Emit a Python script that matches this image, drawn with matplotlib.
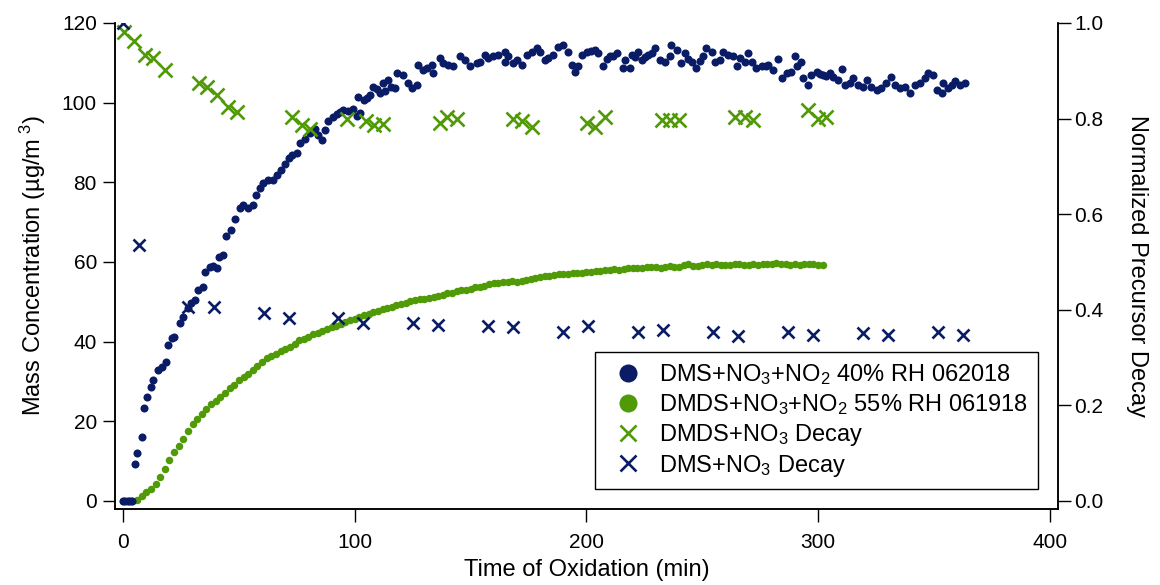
import matplotlib
matplotlib.use("Agg")
import matplotlib.pyplot as plt

plt.rcParams['font.family'] = ['Liberation Sans', 'DejaVu Sans']
plt.rcParams['mathtext.fontset'] = 'custom'
plt.rcParams['mathtext.rm'] = 'Liberation Sans'
plt.rcParams['mathtext.it'] = 'Liberation Sans:italic'
plt.rcParams['mathtext.bf'] = 'Liberation Sans:bold'

# DMS + NO3 + NO2, 40% RH (mass concentration, ug/m3)
dms_time = [0, 1, 2, 3, 4, 5.2, 6.2, 8.2, 9.1, 10.4, 12.2, 13.1, 15.2, 16.7, 18.4, 19.3,
            21.0, 22.0, 24.6, 26.0, 27.9, 29.3, 31.1, 32.5, 34.4, 35.4, 37.5, 38.9, 40.4,
            41.6, 43.3, 44.4, 46.5, 48.3, 50.5, 51.9, 54.1, 56.2, 57.3, 59.1, 60.5, 62.7,
            64.9, 66.3, 68.0, 69.9, 71.5, 72.8, 74.9, 76.4, 78.5, 80.7, 82.8, 84.3, 85.7,
            87.2, 88.6, 90.7, 92.2, 93.5, 95.1, 97.0, 99.4, 100.9, 101.5, 102.3, 104.0,
            105.1, 106.5, 108.0, 109.5, 111.0,
            112.3, 113.0, 114.5, 115.8, 117.4, 118.1, 121.0, 123.1, 124.5, 126.7, 127.4,
            129.6, 131.0, 133.2, 133.9, 136.8, 138.2, 140.4, 142.5, 145.4, 147.6, 149.7,
            152.6, 154.0, 156.2, 157.6, 159.8, 161.9, 164.8, 165.0, 166.3, 168.4, 169.9,
            172.0, 174.2, 176.3, 178.5, 179.9, 182.1, 183.5, 185.7, 187.8, 190.0, 192.1,
            193.6, 195.0,
            196.5, 198.0, 200.1, 202.0, 203.7, 205.1, 207.3, 208.8, 210.2, 211.6, 213.0,
            215.9, 216.6, 218.8, 219.5, 221.0, 222.4, 223.8, 225.3, 226.7, 228.2, 229.6,
            231.7, 233.9, 236.0, 236.7, 238.9, 241.0, 242.5, 244.0, 245.4, 247.5, 249.0,
            250.4, 251.8, 254.0, 255.4, 257.6, 259.0, 261.2, 263.3, 264.8, 266.2, 268.4,
            269.8, 271.3, 273.4, 275.6, 277.7,
            278.5, 280.6, 282.8, 284.2, 286.4, 288.5, 290.0, 290.7, 292.8, 293.5, 295.7,
            297.1, 299.3, 300.8, 302.2, 303.6, 305.1, 306.5, 308.7, 310.1, 311.5, 313.7,
            315.1, 317.3, 319.4, 320.9, 323.0, 325.2, 327.3, 329.5, 331.6, 333.1, 335.3,
            337.4, 339.6, 341.7, 343.9, 346.1, 347.5, 349.6, 351.1, 353.3, 354.0, 356.2,
            357.6, 359.0, 361.2, 363.3]
dms_mass = [0, 0, 0, 0, 0, 9.3, 12.1, 16.0, 23.3, 26.0, 28.7, 30.4, 32.9, 33.7, 35.0, 39.2,
            41.0, 41.2, 44.8, 46.1, 48.4, 49.6, 50.5, 53.0, 53.8, 57.4, 58.8, 58.9, 58.4,
            61.2, 61.7, 66.5, 68.0, 70.7, 73.5, 74.3, 73.5, 74.3, 76.8, 78.5, 79.8, 80.6,
            80.6, 81.8, 83.0, 84.5, 86.0, 86.9, 87.4, 89.8, 90.8, 92.3, 93.3, 91.8, 90.6,
            93.0, 95.3, 96.5, 97.2, 97.7, 98.2, 98.0, 98.4, 96.6, 101.4, 97.4, 100.6,
            101.1, 101.8, 104.0, 103.4, 102.4,
            104.9, 102.8, 105.7, 104.0, 103.6, 107.4, 107.0, 104.9, 103.6, 104.4, 109.5,
            108.2, 108.6, 109.5, 107.4, 111.2, 109.9, 109.5, 109.1, 111.6, 110.7, 109.1,
            109.9, 110.3, 112.0, 111.2, 111.6, 112.0, 112.8, 110.3, 111.6, 109.9, 110.7,
            109.5, 112.0, 112.8, 113.6, 112.8, 110.7, 111.2, 112.0, 114.0, 114.5, 112.8,
            109.5, 107.8,
            109.1, 112.0, 112.8, 113.0, 113.2, 112.4, 109.1, 110.9, 111.6, 111.8, 112.4,
            108.6, 110.7, 108.6, 112.0, 111.5, 112.8, 110.7, 111.4, 112.0, 112.5, 113.6,
            110.7, 110.3, 111.6, 114.5, 113.2, 109.9, 112.4, 111.0, 110.3, 108.6, 110.5,
            111.6, 113.6, 112.8, 110.3, 110.7, 112.8, 112.0, 111.6, 109.1, 111.2, 110.3,
            112.4, 110.3, 108.6, 109.1, 109.1,
            109.5, 108.2, 110.9, 106.1, 107.4, 107.8, 111.6, 109.1, 110.3, 106.1, 104.4,
            107.0, 107.6, 107.3, 107.0, 106.8, 107.4, 106.5, 105.7, 108.4, 104.4, 104.9,
            106.1, 104.4, 104.0, 105.7, 104.0, 103.2, 103.6, 104.9, 106.5, 104.4, 103.6,
            104.0, 102.4, 104.4, 104.9, 106.1, 107.4, 107.0, 103.2, 102.4, 104.9, 103.6,
            104.5, 105.3, 104.4, 104.9]

# DMDS + NO3 + NO2, 55% RH (mass concentration, ug/m3)
dmds_time = [0, 2, 4, 6, 8, 10, 12, 14, 16, 18, 20, 22, 24, 26, 28, 30, 32, 34, 36, 38,
             40, 42, 44, 46, 48, 50, 52, 54, 56, 58, 60, 62, 64, 66, 68, 70, 72, 74, 76, 78,
             80, 82, 84, 86, 88, 90, 92, 94, 96, 98, 100, 102, 104, 106, 108, 110, 112, 114,
             116, 118, 120, 122, 124, 126, 128, 130, 132, 134, 136, 138, 140, 142, 144, 146,
             148, 150, 152, 154, 156, 158, 160, 162, 164, 166, 168, 170, 172, 174, 176, 178,
             180, 182, 184, 186, 188, 190, 192, 194, 196, 198, 200, 202, 204, 206, 208, 210,
             212, 214, 216, 218, 220, 222, 224, 226, 228, 230, 232, 234, 236, 238, 240, 242,
             244, 246, 248, 250, 252, 254, 256, 258, 260, 262, 264, 266, 268, 270, 272, 274,
             276, 278, 280, 282, 284, 286, 288, 290, 292, 294, 296, 298, 300, 302]
dmds_mass = [0, 0, 0, 0.3, 1.2, 2.2, 3.0, 4.3, 6.0, 8.1, 10.3, 12.2, 13.9, 15.6, 17.5, 19.3,
             20.5, 21.9, 23.0, 24.3, 25.2, 26.2, 27.1, 28.3, 29.2, 30.4, 31.2, 32.0, 33.0, 33.8,
             35.0, 35.9, 36.4, 37.0, 37.6, 38.2, 38.6, 39.4, 40.3, 40.6, 41.2, 41.8, 42.2, 42.7,
             43.1, 43.7, 44.0, 44.4, 45.0, 45.4, 45.8, 46.2, 46.6, 46.9, 47.4, 47.8, 48.1, 48.5,
             48.8, 49.1, 49.4, 49.8, 50.1, 50.5, 50.6, 50.8, 50.9, 51.1, 51.4, 51.8, 52.1, 52.3,
             52.7, 52.9, 53.0, 53.3, 53.6, 53.8, 54.0, 54.4, 54.6, 54.8, 54.9, 55.0, 55.1, 55.0,
             55.3, 55.5, 55.7, 56.0, 56.3, 56.6, 56.5, 56.8, 57.0, 56.9, 57.1, 57.3, 57.2, 57.3,
             57.5, 57.6, 57.7, 57.8, 57.9, 58.1, 58.2, 58.1, 58.3, 58.4, 58.5, 58.4, 58.6, 58.8,
             58.7, 58.7, 58.6, 58.8, 58.9, 58.7, 58.8, 59.2, 59.5, 59.1, 59.0, 59.3, 59.4, 59.3,
             59.4, 59.2, 59.3, 59.3, 59.5, 59.4, 59.3, 59.3, 59.4, 59.3, 59.5, 59.6, 59.6, 59.7,
             59.5, 59.6, 59.2, 59.4, 59.3, 59.5, 59.6, 59.5, 59.3, 59.2]

# precursor decay, normalized
dmds_decay_time = [0.4, 4.9, 9.5, 13.1, 18.1, 32.8, 36.1, 40.7, 45.4, 49.1, 73.1, 77.1, 80.7,
                   96.5, 104.9, 108.3, 112.3, 136.8, 140.0, 144.3, 168.4, 172.0, 176.3,
                   200.4, 203.7, 208.0, 232.4, 236.0, 240.0, 264.1, 268.4, 271.7, 295.7,
                   300.0, 303.6]
dmds_decay = [0.982, 0.963, 0.933, 0.926, 0.902, 0.874, 0.865, 0.849, 0.824, 0.814, 0.804,
              0.787, 0.778, 0.800, 0.794, 0.787, 0.789, 0.791, 0.804, 0.800, 0.800, 0.794,
              0.782, 0.790, 0.783, 0.803, 0.796, 0.796, 0.797, 0.804, 0.804, 0.796, 0.818,
              0.798, 0.804]
dms_decay_time = [0, 7.0, 28.2, 39.3, 60.8, 71.6, 92.9, 103.7, 125.3, 136.1, 157.6, 168.4,
                  190.0, 200.8, 222.3, 233.1, 254.7, 265.5, 287.1, 297.9, 319.4, 330.2,
                  351.8, 362.6]
dms_decay = [1.0, 0.536, 0.406, 0.406, 0.393, 0.382, 0.382, 0.373, 0.373, 0.368, 0.365,
             0.364, 0.354, 0.365, 0.354, 0.358, 0.353, 0.345, 0.353, 0.347, 0.351, 0.347,
             0.354, 0.347]

labels = [r'DMS+NO$_3$+NO$_2$ 40% RH 062018',
          r'DMDS+NO$_3$+NO$_2$ 55% RH 061918',
          r'DMDS+NO$_3$ Decay',
          r'DMS+NO$_3$ Decay']

BLUE = '#0A1C66'
GREEN = '#4F9A06'

fig = plt.figure(figsize=(11.6, 5.85), dpi=100)
ax = fig.add_axes([0.0991, 0.130, 0.8129, 0.8308])
ax2 = ax.twinx()

h1, = ax.plot(dms_time, dms_mass, 'o', color=BLUE, ms=5.8, mew=0, zorder=3)
h2, = ax.plot(dmds_time, dmds_mass, 'o', color=GREEN, ms=5.4, mew=0, zorder=2)
h3, = ax2.plot(dmds_decay_time, dmds_decay, 'x', color=GREEN, ms=10.5, mew=1.9)
h4, = ax2.plot(dms_decay_time, dms_decay, 'x', color=BLUE, ms=9, mew=1.9)

ax.set_xlim(-3.5, 403.5)
ax.set_ylim(-2.0, 120)
ax2.set_ylim(-2.0 / 120, 1.0)
ax.set_xticks([0, 100, 200, 300, 400])
ax.set_yticks([0, 20, 40, 60, 80, 100, 120])
ax2.set_yticks([0.0, 0.2, 0.4, 0.6, 0.8, 1.0])
ax2.set_yticklabels(['0.0', '0.2', '0.4', '0.6', '0.8', '1.0'])

for a in (ax, ax2):
    a.spines['top'].set_visible(False)
    for s in a.spines.values():
        s.set_linewidth(1.1)
    a.tick_params(direction='out', length=9, width=1.0, labelsize=15, pad=4)
ax.tick_params(axis='x', pad=8)
ax2.tick_params(axis='y', pad=3)

ax.set_xlabel('Time of Oxidation (min)', fontsize=17, labelpad=5)
ax.set_ylabel(r'Mass Concentration (µg/m$^{\ 3}$)', fontsize=17, labelpad=10)
ax2.set_ylabel('Normalized Precursor Decay', fontsize=17, rotation=270, labelpad=32)

leg = ax2.legend([h1, h2, h3, h4], labels, loc='upper left',
                 bbox_to_anchor=(0.509, 0.323), borderaxespad=0, fontsize=17,
                 fancybox=False, framealpha=1, edgecolor='black', handlelength=1.9,
                 handletextpad=0.35, borderpad=0.45, labelspacing=0.2)
leg.get_frame().set_linewidth(1.0)
hs = leg.legend_handles
hs[0].set_markersize(13)
hs[1].set_markersize(13)
hs[2].set_markersize(12)
hs[3].set_markersize(12)

fig.savefig('out.png', dpi=100)
